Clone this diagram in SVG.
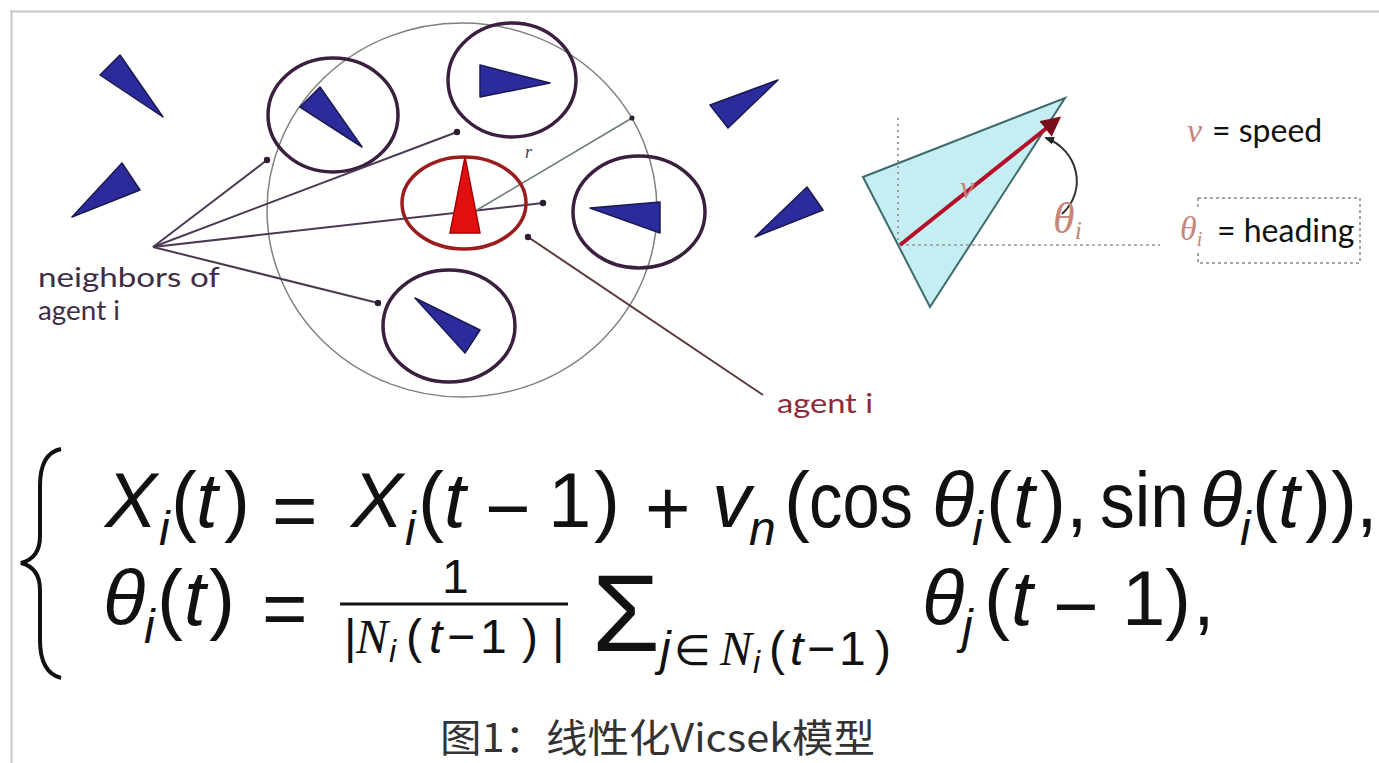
<svg xmlns="http://www.w3.org/2000/svg" width="1379" height="763" viewBox="0 0 1379 763">
<defs>
<style>
.agent{fill:#2b2b9c;stroke:#1a1a50;stroke-width:1.5;stroke-linejoin:round}
.nb{fill:none;stroke:#3b1f3f;stroke-width:3.5}
.conn{stroke:#4a3a55;stroke-width:2;fill:none}
.lbl{font-family:Lato,"DejaVu Sans",sans-serif;font-size:26px;fill:#3d2d45}
.m{font-family:"Liberation Sans","DejaVu Sans",sans-serif;font-size:78px;fill:#111}
.s{font-family:"Liberation Sans","DejaVu Sans",sans-serif;font-size:48px;fill:#111;font-style:italic}
.d{font-family:"Liberation Sans","DejaVu Sans",sans-serif;font-size:48px;fill:#111}
.ds{font-family:"Liberation Sans","DejaVu Sans",sans-serif;font-size:32px;fill:#111;font-style:italic}
.it{font-style:italic}
.cal{font-family:"Liberation Serif",serif;font-style:italic}
.hand{font-family:Lato,"DejaVu Sans",sans-serif;font-size:32px;fill:#111}
.gr{font-family:"Liberation Serif",serif;font-style:italic;fill:#c8857a}
</style>
<marker id="dot" viewBox="0 0 10 10" refX="5" refY="5" markerWidth="4" markerHeight="4" markerUnits="strokeWidth"><circle cx="5" cy="5" r="4" fill="#2a1e30"/></marker>
<marker id="ah" viewBox="0 0 10 10" refX="8" refY="5" markerWidth="5" markerHeight="5" orient="auto" markerUnits="strokeWidth"><path d="M0,0 L10,5 L0,10 z" fill="#7a0d1a"/></marker>
<marker id="ah2" viewBox="0 0 10 10" refX="8" refY="5" markerWidth="5" markerHeight="5" orient="auto" markerUnits="strokeWidth"><path d="M0,1 L10,5 L0,9 z" fill="#222"/></marker>
</defs>
<rect width="1379" height="763" fill="#fff"/>
<g id="frame" stroke="#c8c8c8" stroke-width="2" fill="none">
<path d="M10,11.5 H1379 M11.5,10 V763"/>
</g>

<g id="neighborhood">
<ellipse cx="462" cy="210" rx="195" ry="187" fill="none" stroke="#808080" stroke-width="1.5"/>
</g>

<g id="free-agents">
<polygon class="agent" points="100,75 120,55 163,117"/>
<polygon class="agent" points="122,163 140,190 72,217"/>
<polygon class="agent" points="710,105 728,128 778,80"/>
<polygon class="agent" points="807,187 823,210 755,237"/>
</g>

<g id="neighbor-1"><ellipse class="nb" cx="333" cy="115" rx="65" ry="57"/><polygon class="agent" points="300,107 320,87 362,147"/></g>
<g id="neighbor-2"><ellipse class="nb" cx="512" cy="80" rx="64" ry="57"/><polygon class="agent" points="480,65 480,97 550,83"/></g>
<g id="neighbor-3"><ellipse class="nb" cx="639" cy="212" rx="66" ry="56"/><polygon class="agent" points="660,202 660,233 590,208"/></g>
<g id="neighbor-4"><ellipse class="nb" cx="449" cy="326" rx="66" ry="56"/><polygon class="agent" points="480,330 465,353 415,298"/></g>

<g id="connectors">
<line class="conn" x1="153" y1="247" x2="267" y2="160" marker-end="url(#dot)"/>
<line class="conn" x1="153" y1="247" x2="457" y2="132" marker-end="url(#dot)"/>
<line class="conn" x1="153" y1="247" x2="543" y2="203" marker-end="url(#dot)"/>
<line class="conn" x1="153" y1="247" x2="378" y2="303" marker-end="url(#dot)"/>
<line x1="477" y1="210" x2="632" y2="118" stroke="#6a7a7a" stroke-width="1.6" marker-end="url(#dot)"/>
<line x1="763" y1="395" x2="528" y2="237" stroke="#5a3a3a" stroke-width="2" marker-end="url(#dot)"/>
</g>

<g id="agent-i">
<ellipse cx="464" cy="203" rx="62" ry="46" fill="none" stroke="#9b1c1c" stroke-width="3.5"/>
<polygon points="465,157 450,233 480,233" fill="#e01010" stroke="#a00" stroke-width="1.5"/>
</g>

<text x="525" y="158" font-family="Liberation Serif,serif" font-style="italic" font-size="18" fill="#445">r</text>
<text class="lbl" x="38" y="287" textLength="182" lengthAdjust="spacingAndGlyphs">neighbors of</text>
<text class="lbl" x="38" y="320" textLength="82" lengthAdjust="spacingAndGlyphs">agent i</text>
<text class="lbl" x="777" y="413" style="fill:#8a2a3a" textLength="96" lengthAdjust="spacingAndGlyphs">agent i</text>

<g id="heading-diagram">
<polygon points="863,177 1065,98 930,307" fill="#c4eef2" stroke="#3d6b6b" stroke-width="2"/>
<line x1="898" y1="118" x2="898" y2="243" stroke="#999" stroke-width="2" stroke-dasharray="2 4"/>
<line x1="900" y1="245" x2="1160" y2="245" stroke="#999" stroke-width="1.5" stroke-dasharray="3 3"/>
<line x1="900" y1="245" x2="1058" y2="119" stroke="#b5102a" stroke-width="4" marker-end="url(#ah)"/>
<text class="gr" x="960" y="198" font-size="32">v</text>
<path d="M1062,214 C1088,190 1078,150 1046,138" fill="none" stroke="#333" stroke-width="2" marker-end="url(#ah2)"/>
<text class="gr" x="1053" y="233" font-size="44">θ<tspan font-size="26" dy="6">i</tspan></text>
</g>

<g id="legend">
<text class="gr" x="1187" y="142" font-size="34">v</text>
<text class="hand" x="1212" y="142">= speed</text>
<text class="gr" x="1180" y="240" font-size="34">θ<tspan font-size="20" dy="6">i</tspan></text>
<text class="hand" x="1217" y="242">= heading</text>
<path d="M1198,198 H1360 V263 H1198 M1198,198 v10 M1198,253 v10" fill="none" stroke="#888" stroke-width="1.5" stroke-dasharray="3 3"/>
</g>

<g id="equations">
<path d="M61,449 C46,452 40,466 40,486 L40,536 C40,552 33,560 21,563 C33,566 40,574 40,590 L40,640 C40,660 46,674 61,678" fill="none" stroke="#111" stroke-width="4"/>
<!-- line 1 -->
<text class="m it" x="105" y="527">X</text>
<text class="s" x="159" y="545">i</text>
<text class="m" x="171" y="527">(</text>
<text class="m it" x="196" y="527">t</text>
<text class="m" x="224" y="527">)</text>
<text class="m" x="272" y="537">=</text>
<text class="m it" x="351" y="527">X</text>
<text class="s" x="405" y="545">i</text>
<text class="m" x="418" y="527">(</text>
<text class="m it" x="444" y="527">t</text>
<text class="m" x="485" y="535">−</text>
<text class="m" x="548" y="527">1</text>
<text class="m" x="594" y="527">)</text>
<text class="m" x="645" y="535">+</text>
<text class="m it" x="712" y="527">v</text>
<text class="s" x="749" y="545">n</text>
<text class="m" x="784" y="527">(</text>
<text class="m" x="809" y="527" textLength="104" lengthAdjust="spacingAndGlyphs">cos</text>
<text class="m it" x="932" y="527">θ</text>
<text class="s" x="972" y="545">i</text>
<text class="m" x="986" y="527">(</text>
<text class="m it" x="1013" y="527">t</text>
<text class="m" x="1040" y="527">)</text>
<text class="m" x="1066" y="527">,</text>
<text class="m" x="1100" y="527" textLength="89" lengthAdjust="spacingAndGlyphs">sin</text>
<text class="m it" x="1200" y="527">θ</text>
<text class="s" x="1240" y="545">i</text>
<text class="m" x="1252" y="527">(</text>
<text class="m it" x="1278" y="527">t</text>
<text class="m" x="1305" y="527">)</text>
<text class="m" x="1331" y="527">)</text>
<text class="m" x="1356" y="527">,</text>
<!-- line 2 -->
<text class="m it" x="103" y="625">θ</text>
<text class="s" x="144" y="643">i</text>
<text class="m" x="157" y="625">(</text>
<text class="m it" x="184" y="625">t</text>
<text class="m" x="209" y="625">)</text>
<text class="m" x="262" y="635">=</text>
<text class="d" x="442" y="593">1</text>
<line x1="340" y1="604" x2="568" y2="604" stroke="#111" stroke-width="3"/>
<text class="d" x="344" y="653">|</text>
<text class="d cal" x="356" y="653">N</text>
<text class="ds" x="389" y="662">i</text>
<text class="d" x="406" y="653">(</text>
<text class="d it" x="429" y="653">t</text>
<text class="d" x="447" y="653">−</text>
<text class="d" x="480" y="653">1</text>
<text class="d" x="522" y="653">)</text>
<text class="d" x="552" y="653">|</text>
<text class="m" x="592" y="651" style="font-size:110px">Σ</text>
<text class="d it" x="660" y="665">j</text>
<text class="d" x="674" y="665" style="font-size:42px">∈</text>
<text class="d cal" x="720" y="665">N</text>
<text class="ds" x="753" y="673">i</text>
<text class="d" x="769" y="665">(</text>
<text class="d it" x="790" y="665">t</text>
<text class="d" x="807" y="665">−</text>
<text class="d" x="839" y="665">1</text>
<text class="d" x="875" y="665">)</text>
<text class="m it" x="922" y="625">θ</text>
<text class="s" x="962" y="643">j</text>
<text class="m" x="984" y="625">(</text>
<text class="m it" x="1011" y="625">t</text>
<text class="m" x="1053" y="633">−</text>
<text class="m" x="1122" y="625">1</text>
<text class="m" x="1165" y="625">)</text>
<text class="m" x="1193" y="625">,</text>
</g>

<text id="caption" x="440" y="752" font-family="'Noto Sans CJK SC',sans-serif" font-size="39" fill="#333" textLength="435" lengthAdjust="spacingAndGlyphs">图1：线性化Vicsek模型</text>
</svg>
